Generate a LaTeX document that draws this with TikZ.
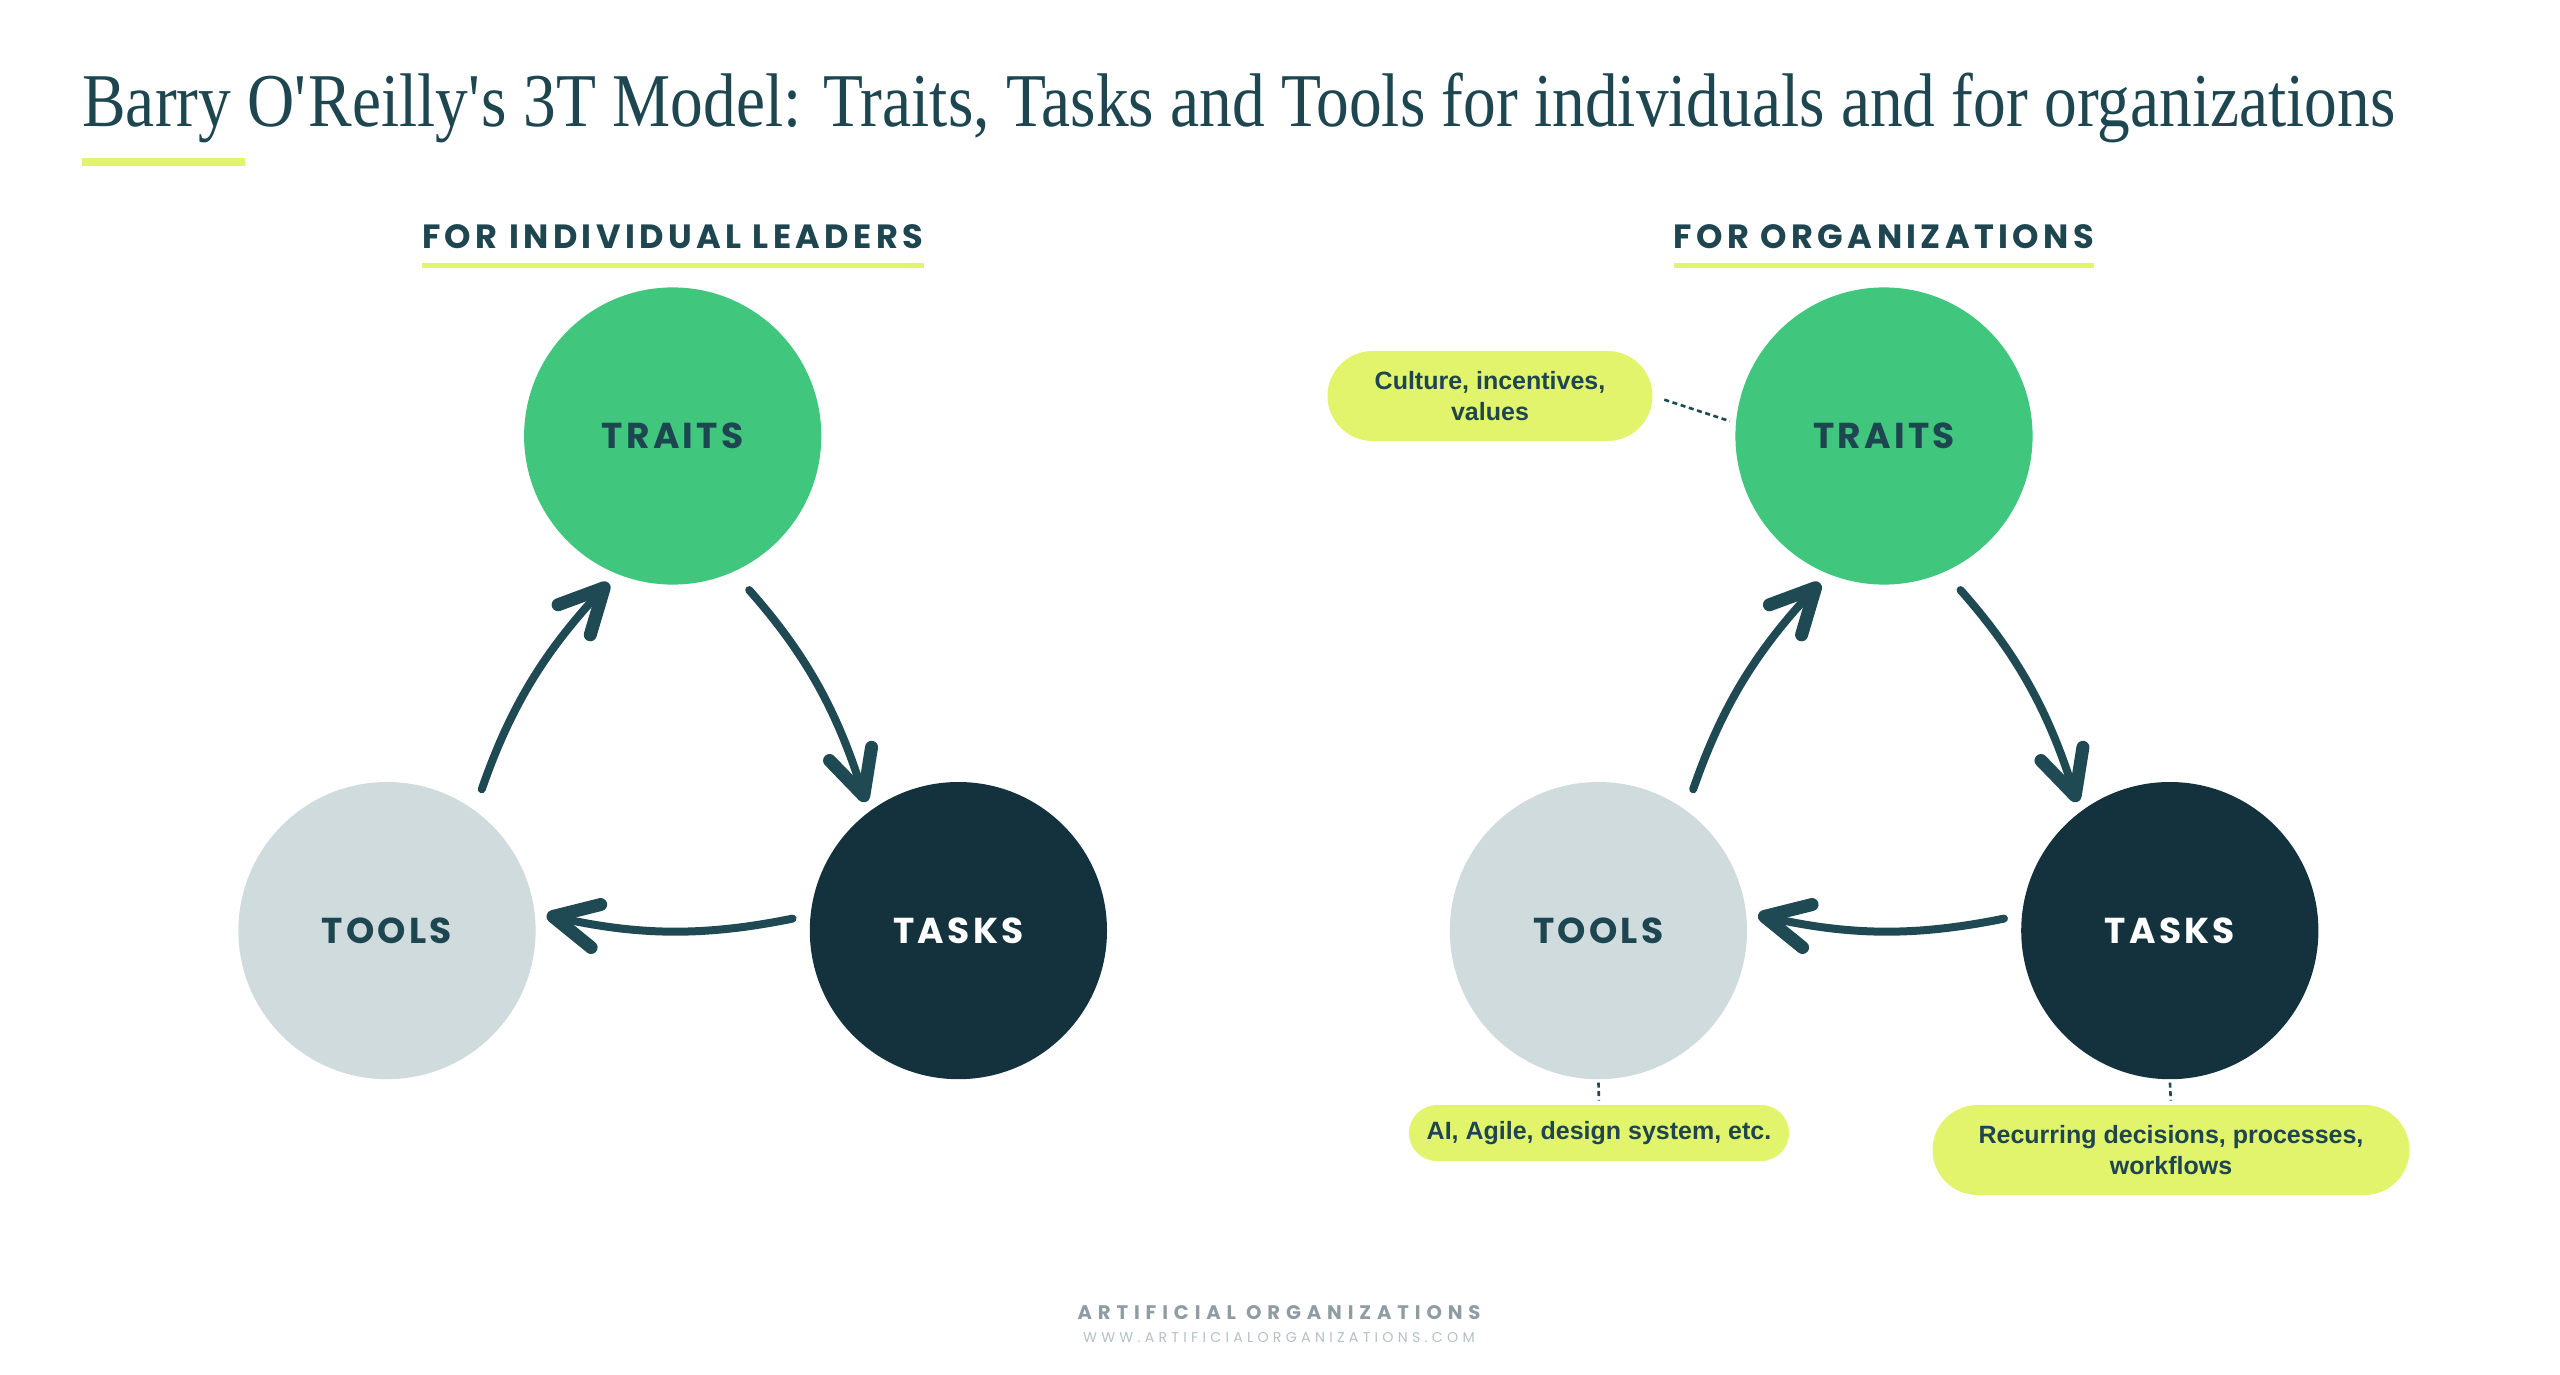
\documentclass[tikz,border=0pt]{standalone}
\usepackage{fontspec}
\usetikzlibrary{arrows.meta}
\setmainfont{Liberation Sans}
\newfontfamily\titlefont[FakeStretch=0.86]{Liberation Serif}
\newfontfamily\headfont[LetterSpace=13]{Poppins}
\newfontfamily\circfont[LetterSpace=9]{Poppins}
\newfontfamily\footfont[LetterSpace=30]{Poppins}
\newfontfamily\pillfont{Liberation Sans}

\definecolor{darkteal}{HTML}{1D4650}
\definecolor{traitgreen}{HTML}{41C67E}
\definecolor{toolgray}{HTML}{CFDBDD}
\definecolor{taskdark}{HTML}{14323D}
\definecolor{arrowteal}{HTML}{1F4A53}
\definecolor{lime}{HTML}{E2F36C}
\definecolor{footgray}{HTML}{8F9DA2}
\definecolor{footlight}{HTML}{B5C1C4}

\tikzset{
  ball/.style={circle, minimum size=148.6pt, inner sep=0pt,
    font=\circfont\bfseries\fontsize{18}{20}\selectfont},
  traitball/.style={ball, fill=traitgreen, text=darkteal},
  toolball/.style={ball, fill=toolgray, text=darkteal},
  taskball/.style={ball, fill=taskdark, text=white},
  head/.style={inner sep=0pt, text=darkteal,
    font=\headfont\bfseries\fontsize{16.8}{18}\selectfont},
  pill/.style={fill=lime, text=darkteal, align=center, inner sep=0pt,
    font=\pillfont\bfseries\fontsize{12.5}{15.5}\selectfont},
  flow/.style={draw=arrowteal, line width=4pt, line cap=round,
    -{Straight Barb[length=22pt, width=22pt, line width=6.5pt, round]}},
  hint/.style={draw=arrowteal, line width=1.3pt, dash pattern=on 2.5pt off 1.8pt}
}

\begin{document}
\begin{tikzpicture}[x=0.5pt,y=-0.5pt]
  \useasboundingbox[fill=white] (0,0) rectangle (2560,1375);

  % title
  \node[anchor=base west, inner sep=0pt, text=darkteal,
    font=\titlefont\fontsize{38}{40}\selectfont] (title) at (82,127)
    {Barry O\textquotesingle Reilly\textquotesingle s 3T Model: Traits, Tasks and Tools for individuals and for organizations};
  \fill[lime] (82,158) rectangle (245,166);

  % left: individual leaders
  \node[head] (hdL) at (672.7,237) {FOR INDIVIDUAL LEADERS};
  \draw[lime, line width=2.6pt] ([yshift=-8pt]hdL.south west) -- ([yshift=-8pt]hdL.south east);

  \node[traitball] (traitsL) at (672.7,436) {TRAITS};
  \node[toolball] (toolsL) at (387,930.6) {TOOLS};
  \node[taskball] (tasksL) at (958.4,930.6) {TASKS};

  \draw[flow, shorten <=11pt, shorten >=6pt] (toolsL.54) to[bend left=12] (traitsL.248);
  \draw[flow, shorten <=12pt, shorten >=5pt] (traitsL.294) to[bend left=12] (tasksL.127);
  \draw[flow, shorten <=9pt, shorten >=6pt] (tasksL.174) to[bend left=12] (toolsL.7);

  % right: organizations
  \node[head] (hdR) at (1884,237) {FOR ORGANIZATIONS};
  \draw[lime, line width=2.6pt] ([yshift=-8pt]hdR.south west) -- ([yshift=-8pt]hdR.south east);

  \node[traitball] (traitsR) at (1884,436) {TRAITS};
  \node[toolball] (toolsR) at (1598.4,930.6) {TOOLS};
  \node[taskball] (tasksR) at (2169.8,930.6) {TASKS};

  \draw[flow, shorten <=11pt, shorten >=6pt] (toolsR.54) to[bend left=12] (traitsR.248);
  \draw[flow, shorten <=12pt, shorten >=5pt] (traitsR.294) to[bend left=12] (tasksR.127);
  \draw[flow, shorten <=9pt, shorten >=6pt] (tasksR.174) to[bend left=12] (toolsR.7);

  \node[pill, minimum width=162.5pt, minimum height=45pt, rounded corners=22.5pt] (culture) at (1490,396)
    {Culture, incentives,\\values};
  \node[pill, minimum width=190pt, minimum height=28pt, rounded corners=14pt] (aitools) at (1599,1133)
    {AI, Agile, design system, etc.};
  \node[pill, minimum width=238.5pt, minimum height=45pt, rounded corners=22.5pt] (recurring) at (2171,1150)
    {Recurring decisions, processes,\\workflows};

  \draw[hint, shorten <=6pt, shorten >=3pt] (culture.east) -- (traitsR.175);
  \draw[hint, shorten <=1.5pt, shorten >=2pt] (toolsR.south) -- (aitools.north);
  \draw[hint, shorten <=1.5pt, shorten >=2pt] (tasksR.south) -- (recurring.north);

  % footer
  \node[anchor=base, inner sep=0pt, text=footgray,
    font=\footfont\bfseries\fontsize{9.8}{10}\selectfont] (brand) at (1279,1319) {ARTIFICIAL ORGANIZATIONS};
  \node[anchor=base, inner sep=0pt, text=footlight,
    font=\footfont\fontsize{7.1}{8}\selectfont] (site) at (1279,1342) {WWW.ARTIFICIALORGANIZATIONS.COM};
\end{tikzpicture}
\end{document}
